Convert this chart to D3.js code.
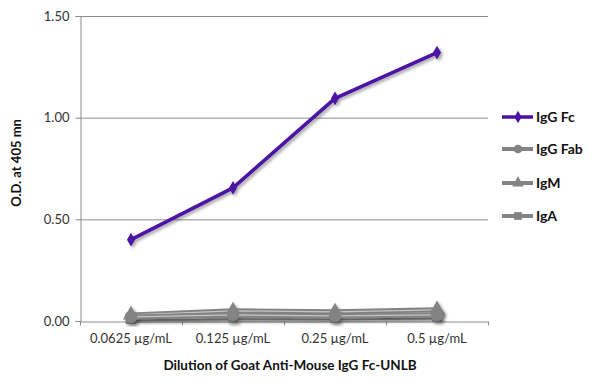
<!DOCTYPE html>
<html>
<head>
<meta charset="utf-8">
<script src="https://cdn.jsdelivr.net/npm/d3@7"></script>
<style>
  body { margin: 0; background: #fff; }
  text { font-family: Lato, "Open Sans", sans-serif; }
</style>
</head>
<body>
<div id="chart"></div>
<script>
const categories = ['0.0625 µg/mL', '0.125 µg/mL', '0.25 µg/mL', '0.5 µg/mL'];
const seriesNames = ['IgG Fc', 'IgG Fab', 'IgM', 'IgA'];
const igGFc = [0.40, 0.655, 1.095, 1.32];
const igGFab = [0.02, 0.03, 0.025, 0.03];
const igM = [0.03, 0.05, 0.045, 0.055];
const igA = [0.01, 0.015, 0.015, 0.02];
const yTicks = [0, 0.5, 1.0, 1.5];

const config = {
    WIDTH: 600,
    HEIGHT: 387,
    LEFT: 80,
    RIGHT: 488,
    TOP: 16,
    BOTTOM: 321,
    PURPLE: '#4b12a3',
    GRAY: '#838383',
}

const series = [
    { name: seriesNames[0], values: igGFc, color: config.PURPLE, shape: d3.symbolDiamond, size: 55 },
    { name: seriesNames[1], values: igGFab, color: config.GRAY, shape: d3.symbolCircle, size: 120 },
    { name: seriesNames[2], values: igM, color: config.GRAY, shape: d3.symbolTriangle, size: 110 },
    { name: seriesNames[3], values: igA, color: config.GRAY, shape: d3.symbolSquare, size: 110 },
];

const svg = d3.select('#chart')
    .append('svg')
    .attr('width', config.WIDTH)
    .attr('height', config.HEIGHT);

// soft drop shadow like the original office chart
const filter = svg.append('defs').append('filter')
    .attr('id', 'shadow')
    .attr('x', '-20%').attr('y', '-20%')
    .attr('width', '140%').attr('height', '140%');
filter.append('feDropShadow')
    .attr('dx', 2).attr('dy', 2)
    .attr('stdDeviation', 1.5)
    .attr('flood-color', '#000')
    .attr('flood-opacity', 0.35);

const x = d3.scaleBand()
    .domain(categories)
    .range([config.LEFT, config.RIGHT]);

const y = d3.scaleLinear()
    .domain([0, 1.5])
    .range([config.BOTTOM, config.TOP]);

// gridlines
svg.append('g')
    .selectAll('line')
    .data(yTicks.filter(d => d > 0))
    .join('line')
    .attr('x1', config.LEFT)
    .attr('x2', config.RIGHT)
    .attr('y1', d => y(d) + 0.5)
    .attr('y2', d => y(d) + 0.5)
    .attr('stroke', '#8c8c8c')
    .attr('stroke-width', 1);

// y axis
const yAxis = svg.append('g')
    .attr('transform', `translate(${config.LEFT + 0.5},0)`)
    .call(d3.axisLeft(y).tickValues(yTicks).tickFormat(d3.format('.2f')).tickSize(5).tickPadding(6));

// x axis, ticks on band edges
const xAxis = svg.append('g')
    .attr('transform', `translate(0,${config.BOTTOM + 0.5})`)
    .call(d3.axisBottom(x).tickSize(0).tickPadding(12));

xAxis.append('g')
    .selectAll('line')
    .data(d3.range(categories.length + 1))
    .join('line')
    .attr('x1', i => config.LEFT + i * x.step() + 0.5)
    .attr('x2', i => config.LEFT + i * x.step() + 0.5)
    .attr('y1', 0)
    .attr('y2', 4)
    .attr('stroke', '#8c8c8c');

[yAxis, xAxis].forEach(a => {
    a.select('.domain').attr('stroke', '#8c8c8c');
    a.selectAll('.tick line').attr('stroke', '#8c8c8c');
    a.selectAll('.tick text')
        .attr('fill', '#333')
        .style('font-size', '13px');
});

// axis titles
svg.append('text')
    .attr('x', 290)
    .attr('y', 370)
    .attr('text-anchor', 'middle')
    .style('font-size', '13.5px')
    .style('font-weight', 'bold')
    .attr('fill', '#111')
    .text('Dilution of Goat Anti-Mouse IgG Fc-UNLB');

svg.append('text')
    .attr('transform', 'translate(21,163) rotate(-90)')
    .attr('text-anchor', 'middle')
    .style('font-size', '13px')
    .style('font-weight', 'bold')
    .attr('fill', '#111')
    .text('O.D. at 405 mn');

const cx = d => x(d) + x.bandwidth() / 2;

const line = d3.line()
    .x((d, i) => cx(categories[i]))
    .y(d => y(d));

// series, drawn back to front so IgG Fc sits on top
const plot = svg.append('g');
series.slice().reverse().forEach(s => {
    const g = plot.append('g').attr('filter', 'url(#shadow)');
    const isGray = s.color === config.GRAY;
    g.append('path')
        .attr('d', line(s.values))
        .attr('fill', 'none')
        .attr('stroke', s.color)
        .attr('stroke-width', isGray ? 5 : 3.5)
        .attr('stroke-linejoin', 'round');
    if (isGray) {
        g.append('path')
            .attr('d', line(s.values))
            .attr('fill', 'none')
            .attr('stroke', '#c4c4c4')
            .attr('stroke-width', 1.2);
    }
    g.selectAll('path.marker')
        .data(s.values)
        .join('path')
        .attr('class', 'marker')
        .attr('transform', (d, i) => `translate(${cx(categories[i])},${y(d)})`)
        .attr('d', d3.symbol().type(s.shape).size(s.size))
        .attr('fill', s.color);
});

// legend
const legend = svg.append('g');
const legendY = [117, 149, 183, 216];
series.forEach((s, i) => {
    const row = legend.append('g')
        .attr('transform', `translate(502,${legendY[i]})`);
    row.append('line')
        .attr('x1', 0).attr('x2', 31)
        .attr('stroke', s.color)
        .attr('stroke-width', s.color === config.GRAY ? 4 : 3.5);
    row.append('path')
        .attr('transform', 'translate(16,0)')
        .attr('d', d3.symbol().type(s.shape).size(s.color === config.GRAY ? 60 : 45))
        .attr('fill', s.color);
    row.append('text')
        .attr('x', 34)
        .attr('dy', '0.36em')
        .style('font-size', '14px')
        .style('font-weight', 'bold')
        .attr('fill', '#111')
        .text(s.name);
});
</script>
</body>
</html>
